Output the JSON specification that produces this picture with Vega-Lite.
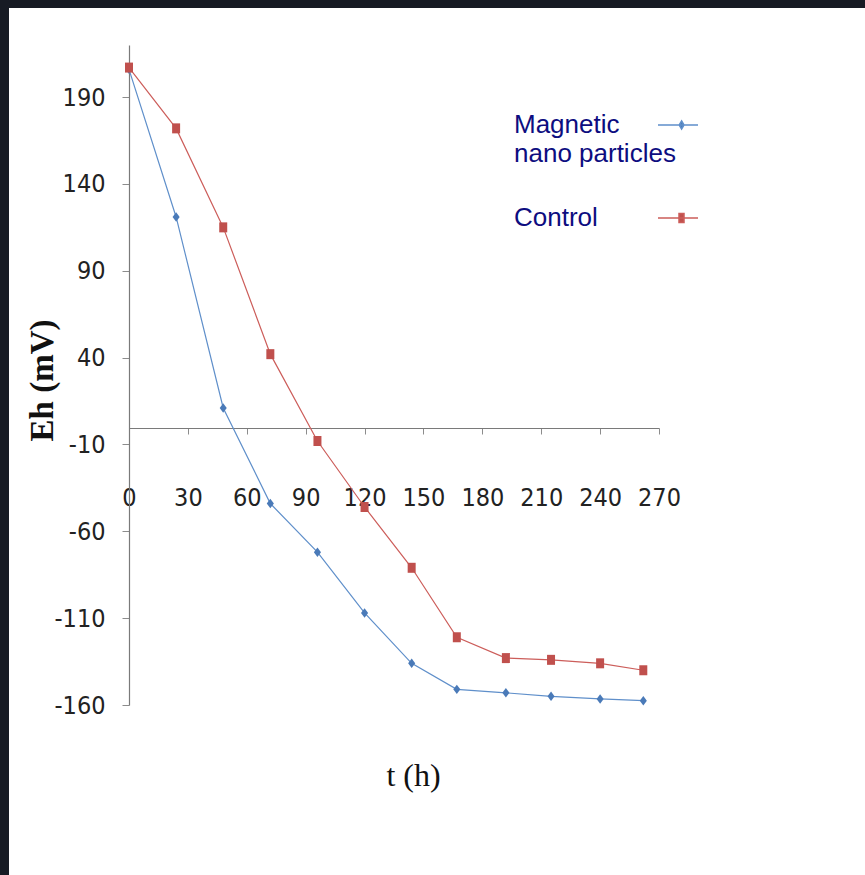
{
  "$schema": "https://vega.github.io/schema/vega-lite/v6.json",
  "width": 856,
  "height": 867,
  "autosize": {"type": "none"},
  "padding": {"left": 9, "top": 8, "right": 0, "bottom": 0},
  "background": "#171b24",
  "config": {"view": {"fill": "#ffffff", "stroke": null}},
  "data": {
    "values": [
      {"t": 0, "eh": 206, "series": "Magnetic nano particles"},
      {"t": 24, "eh": 121, "series": "Magnetic nano particles"},
      {"t": 48, "eh": 11, "series": "Magnetic nano particles"},
      {"t": 72, "eh": -44, "series": "Magnetic nano particles"},
      {"t": 96, "eh": -72, "series": "Magnetic nano particles"},
      {"t": 120, "eh": -107, "series": "Magnetic nano particles"},
      {"t": 144, "eh": -136, "series": "Magnetic nano particles"},
      {"t": 167, "eh": -151, "series": "Magnetic nano particles"},
      {"t": 192, "eh": -153, "series": "Magnetic nano particles"},
      {"t": 215, "eh": -155, "series": "Magnetic nano particles"},
      {"t": 240, "eh": -156.5, "series": "Magnetic nano particles"},
      {"t": 262, "eh": -157.5, "series": "Magnetic nano particles"},
      {"t": 0, "eh": 207, "series": "Control"},
      {"t": 24, "eh": 172, "series": "Control"},
      {"t": 48, "eh": 115, "series": "Control"},
      {"t": 72, "eh": 42, "series": "Control"},
      {"t": 96, "eh": -8, "series": "Control"},
      {"t": 120, "eh": -46, "series": "Control"},
      {"t": 144, "eh": -81, "series": "Control"},
      {"t": 167, "eh": -121, "series": "Control"},
      {"t": 192, "eh": -133, "series": "Control"},
      {"t": 215, "eh": -134, "series": "Control"},
      {"t": 240, "eh": -136, "series": "Control"},
      {"t": 262, "eh": -140, "series": "Control"}
    ]
  },
  "encoding": {
    "x": {
      "field": "t",
      "type": "quantitative",
      "scale": {"domain": [0, 270], "range": [120, 650], "nice": false, "zero": false},
      "axis": {
        "orient": "bottom",
        "offset": -447,
        "values": [0, 30, 60, 90, 120, 150, 180, 210, 240, 270],
        "labelExpr": "toString(datum.value)",
        "labelOverlap": false,
        "labelFlush": false,
        "grid": false,
        "tickSize": 6,
        "tickColor": "#8c8c8c",
        "domainColor": "#7a7a7a",
        "domainWidth": 1.2,
        "labelPadding": 51,
        "labelFont": "Liberation Sans Narrow, DejaVu Sans Condensed, Roboto Condensed, Liberation Sans",
        "labelFontSize": 25,
        "labelColor": "#222222",
        "title": "t (h)",
        "titleFont": "Liberation Serif",
        "titleFontSize": 32,
        "titleFontWeight": "normal",
        "titleColor": "#111111",
        "titleX": 404,
        "titleY": 347,
        "titleAlign": "center",
        "titleBaseline": "middle"
      }
    },
    "y": {
      "field": "eh",
      "type": "quantitative",
      "scale": {"domain": [-160, 220], "range": [697, 37], "nice": false, "zero": false},
      "axis": {
        "orient": "left",
        "offset": -120,
        "values": [-160, -110, -60, -10, 40, 90, 140, 190],
        "labelExpr": "toString(datum.value)",
        "labelOverlap": false,
        "grid": false,
        "tickSize": 7,
        "tickColor": "#8c8c8c",
        "domainColor": "#7a7a7a",
        "domainWidth": 1.2,
        "labelPadding": 17,
        "labelFont": "Liberation Sans Narrow, DejaVu Sans Condensed, Roboto Condensed, Liberation Sans",
        "labelFontSize": 25,
        "labelColor": "#222222",
        "title": "Eh (mV)",
        "titleFont": "Liberation Serif",
        "titleFontSize": 33,
        "titleFontWeight": "bold",
        "titleColor": "#111111",
        "titleAngle": 270,
        "titleX": -87,
        "titleY": 372,
        "titleAlign": "center",
        "titleBaseline": "middle"
      }
    }
  },
  "layer": [
    {
      "mark": {"type": "line", "strokeWidth": 1.2},
      "encoding": {
        "color": {
          "field": "series",
          "type": "nominal",
          "scale": {"domain": ["Magnetic nano particles", "Control"], "range": ["#5f8fca", "#cc5d5a"]},
          "legend": {
            "orient": "none",
            "legendX": 648,
            "legendY": 96,
            "title": null,
            "padding": 0,
            "symbolSize": 1600,
            "symbolStrokeWidth": 1.5,
            "labelAlign": "left",
            "labelOffset": -185,
            "labelFont": "Liberation Sans",
            "labelFontSize": 26,
            "labelColor": "#0d0d80",
            "labelLimit": 400,
            "rowPadding": 30,
            "labelExpr": "datum.label == 'Magnetic nano particles' ? ['Magnetic', 'nano particles'] : datum.label",
            "encode": {
              "symbols": {
                "update": {
                  "shape": {"signal": "datum.value == 'Control' ? 'M-1,0H1M0.05,-0.22H0.3V0.22H0.05Z' : 'M-1,0H1M0.18,-0.2L0.3,0L0.18,0.2L0.06,0Z'"},
                  "fill": {"signal": "datum.value == 'Control' ? '#c0504d' : '#4a7ab8'"}
                }
              },
              "labels": {
                "update": {"lineHeight": {"value": 29}}
              }
            }
          }
        }
      }
    },
    {
      "transform": [{"filter": "datum.series == 'Magnetic nano particles'"}],
      "mark": {"type": "point", "shape": "M0,-1L0.75,0L0,1L-0.75,0Z", "size": 90, "filled": true, "color": "#4a7ab8", "opacity": 1}
    },
    {
      "transform": [{"filter": "datum.series == 'Control'"}],
      "mark": {"type": "point", "shape": "M-0.8,-1H0.8V1H-0.8Z", "size": 100, "filled": true, "color": "#c0504d", "opacity": 1}
    }
  ]
}
